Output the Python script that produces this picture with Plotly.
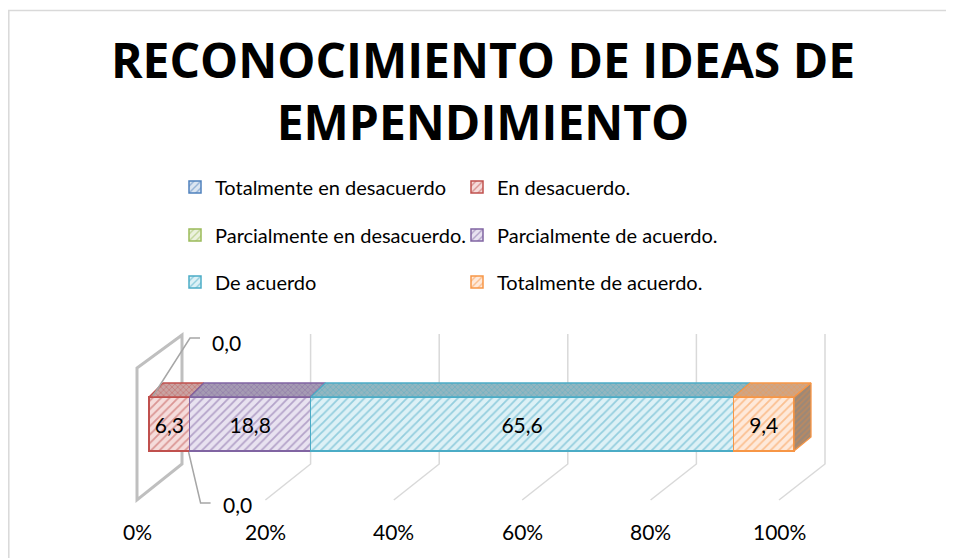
import plotly.graph_objects as go

# ---------------- data ----------------
categories = ["Totalmente en desacuerdo", "En desacuerdo.", "Parcialmente en desacuerdo.",
              "Parcialmente de acuerdo.", "De acuerdo", "Totalmente de acuerdo."]
values = [0.0, 6.3, 0.0, 18.8, 65.6, 9.4]
tick_vals = [0, 20, 40, 60, 80, 100]
tick_text = ["0%", "20%", "40%", "60%", "80%", "100%"]
title_text = "RECONOCIMIENTO DE IDEAS DE<br>EMPENDIMIENTO"

# ---------------- styles ----------------
colors = ["#4F81BD", "#C0504D", "#9BBB59", "#8064A2", "#4BACC6", "#F79646"]
front_bg = ["#dbe5f1", "#f5dcdb", "#ebf1de", "#e8e2f0", "#ddf1f6", "#fee9da"]
top_bg = ["#8ea2bd", "#c9a3a2", "#a9b995", "#a59bb3", "#93b6c0", "#cfa585"]
FONT = "Lato"

# page body has an 8px margin: figure is drawn 8px in from the window edge
OFF = 8
WIN_W, WIN_H = 954, 558
FW, FH = WIN_W - OFF, WIN_H - OFF

X0_PX = 149.0          # window pixel of 0 % on the bar front
PX_PER = 6.45          # pixels per percent
def px(d):             # pixel offset -> x units
    return d / PX_PER
def paper_x(wx):
    return (wx - OFF) / FW
def paper_y(wy):
    return 1 - (wy - OFF) / FH

BAR_Y, BAR_W = 424, 54
BAR_TOP, BAR_BOT = BAR_Y - BAR_W / 2, BAR_Y + BAR_W / 2
DEPTH_Y = 14
def depth_x(p):
    return px(14 + 3 * p / 100)

def fx(p):  # front floor edge
    return px(137 - X0_PX) + p * (779 - 137) / (100 * PX_PER)
def bx(p):  # back wall
    return px(182 - X0_PX) + p * (825 - 182) / (100 * PX_PER)
FLOOR_FRONT, FLOOR_BACK, BACK_TOP, WALL_FRONT_TOP = 500, 464, 334, 368

def fmt(v):
    return f"{v:.1f}".replace(".", ",")

total = sum(values)
shares = [v / total * 100 for v in values]
cum = [0.0]
for s in shares:
    cum.append(cum[-1] + s)

fig = go.Figure()
legends = ["legend", "legend2", "legend3"]

for i, (cat, v) in enumerate(zip(categories, values)):
    fig.add_trace(go.Bar(
        x=[v], y=[BAR_Y], orientation="h", width=BAR_W, name=cat,
        legend=legends[i // 2],
        text=[fmt(v) if v > 0 else ""], textposition="inside",
        insidetextanchor="middle", textangle=0,
        insidetextfont=dict(family=FONT, size=21, color="black"),
        marker=dict(color=front_bg[i],
                    line=dict(color=colors[i], width=1.5),
                    pattern=dict(shape="/", fgcolor=colors[i], bgcolor=front_bg[i],
                                 size=6, solidity=0.3)),
        hoverinfo="skip",
    ))

# top faces
last = max(i for i, v in enumerate(values) if v > 0)
for i, v in enumerate(values):
    if v <= 0:
        continue
    a, b = cum[i], cum[i + 1]
    xs = [a, b, b + depth_x(b), a + depth_x(a), a]
    ys = [BAR_TOP, BAR_TOP, BAR_TOP - DEPTH_Y, BAR_TOP - DEPTH_Y, BAR_TOP]
    fig.add_trace(go.Scatter(
        x=xs, y=ys, mode="lines", fill="toself", fillcolor=top_bg[i],
        fillpattern=dict(shape="x", fgcolor=colors[i], bgcolor=top_bg[i], size=4, solidity=0.35),
        line=dict(color=colors[i], width=1.3), showlegend=False, hoverinfo="skip"))

# right side face of last segment
e = cum[last + 1]
fig.add_trace(go.Scatter(
    x=[e, e + depth_x(e), e + depth_x(e), e, e],
    y=[BAR_TOP, BAR_TOP - DEPTH_Y, BAR_BOT - DEPTH_Y, BAR_BOT, BAR_TOP],
    mode="lines", fill="toself", fillcolor="#a88c74",
    fillpattern=dict(shape="/", fgcolor="#d98a4a", bgcolor="#9c8877", size=4, solidity=0.4),
    line=dict(color=colors[last], width=1.3), showlegend=False, hoverinfo="skip"))

shapes = []
# back-wall / floor gridlines
for p in tick_vals[1:]:
    shapes.append(dict(type="path", xref="x", yref="y", layer="below",
                       path=f"M {bx(p)},{BACK_TOP} L {bx(p)},{FLOOR_BACK} L {fx(p)},{FLOOR_FRONT}",
                       line=dict(color="#d9d9d9", width=1.5)))
# left side wall
shapes.append(dict(type="path", xref="x", yref="y", layer="below",
                   path=(f"M {fx(0)},{WALL_FRONT_TOP} L {fx(0)},{FLOOR_FRONT} "
                         f"L {bx(0)},{FLOOR_BACK} L {bx(0)},{BACK_TOP + 1} Z"),
                   fillcolor="rgba(0,0,0,0)", line=dict(color="#bfbfbf", width=3)))
# leader lines for the zero values
a0 = cum[0]
shapes.append(dict(type="path", xref="x", yref="y",
                   path=f"M {a0 + px(4)},{BAR_TOP - 1} L {a0 + px(41)},338 L {a0 + px(51)},338",
                   line=dict(color="#a6a6a6", width=1.5)))
b2 = cum[2]
shapes.append(dict(type="path", xref="x", yref="y",
                   path=f"M {b2 - px(1)},{BAR_BOT + 1} L {b2 + px(11)},503 L {b2 + px(21)},503",
                   line=dict(color="#a6a6a6", width=1.5)))
# chart border (left and top edges visible in the window)
shapes.append(dict(type="rect", xref="paper", yref="paper",
                   x0=paper_x(8.8), x1=1.05, y0=-0.05, y1=paper_y(10.5),
                   line=dict(color="#d9d9d9", width=1.5), fillcolor="rgba(0,0,0,0)"))

annotations = []
for p, t in zip(tick_vals, tick_text):
    annotations.append(dict(x=fx(p), y=531, xref="x", yref="y", text=t, showarrow=False,
                            xanchor="center", yanchor="middle",
                            font=dict(family=FONT, size=21, color="black")))
annotations.append(dict(x=a0 + px(61), y=342, xref="x", yref="y", text=fmt(values[0]),
                        showarrow=False, xanchor="left", yanchor="middle",
                        font=dict(family=FONT, size=21, color="black")))
annotations.append(dict(x=b2 + px(31), y=504, xref="x", yref="y", text=fmt(values[2]),
                        showarrow=False, xanchor="left", yanchor="middle",
                        font=dict(family=FONT, size=21, color="black")))

leg_common = dict(orientation="h", entrywidth=237, entrywidthmode="pixels",
                  x=paper_x(175), xanchor="left", yanchor="middle",
                  font=dict(family=FONT, size=20, color="black"),
                  bgcolor="rgba(0,0,0,0)", traceorder="normal")
rows_y = [187, 235, 282]

fig.update_layout(
    width=FW, height=FH,
    margin=dict(l=0, r=0, t=0, b=0),
    paper_bgcolor="white", plot_bgcolor="white",
    barmode="stack", barnorm="percent", separators=",.",
    uniformtext=dict(minsize=21, mode="show"),
    title=dict(text=title_text, x=paper_x(483), xanchor="center", y=1 - 70 / FH, yanchor="top",
               font=dict(family="Open Sans", size=48, color="black", weight="bold")),
    xaxis=dict(visible=False, range=[(OFF - X0_PX) / PX_PER, (WIN_W - X0_PX) / PX_PER],
               fixedrange=True),
    yaxis=dict(visible=False, range=[WIN_H, OFF], fixedrange=True),
    legend=dict(leg_common, y=paper_y(rows_y[0])),
    legend2=dict(leg_common, y=paper_y(rows_y[1])),
    legend3=dict(leg_common, y=paper_y(rows_y[2])),
    shapes=shapes, annotations=annotations,
    showlegend=True,
)

fig.write_html("out.html", config={"displayModeBar": False})
